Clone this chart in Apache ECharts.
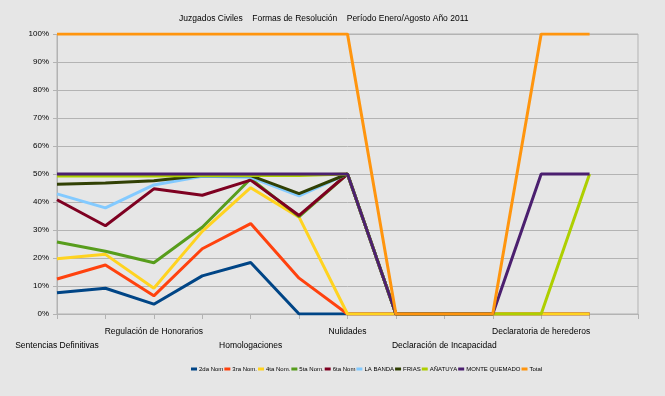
<!DOCTYPE html>
<html>
<head>
<meta charset="utf-8">
<script src="https://cdn.jsdelivr.net/npm/echarts@6/dist/echarts.min.js"></script>
<style>html,body{margin:0;padding:0;background:#e6e6e6;}#c{width:665px;height:396px;}</style>
</head>
<body>
<div id="c"></div>
<script>
const categories = ['Sentencias Definitivas', '', 'Regulación de Honorarios', '', 'Homologaciones', '', 'Nulidades', '', 'Declaración de Incapacidad', '', 'Declaratoria de herederos', '', ''];
const seriesNames = ['2da Nom', '3ra Nom.', '4ta Nom.', '5ta Nom.', '6ta Nom', 'LA BANDA', 'FRIAS', 'AÑATUYA', 'MONTE QUEMADO', 'Total'];
const s2da = [7.6, 9.2, 3.5, 13.6, 18.4, 0, 0, 0, 0, 0, 0, 0];
const s3ra = [12.5, 17.5, 6.5, 23.3, 32.3, 12.8, 0, 0, 0, 0, 0, 0];
const s4ta = [19.7, 21.3, 9.2, 29.5, 45.1, 34.6, 0, 0, 0, 0, 0, 0];
const s5ta = [25.7, 22.4, 18.3, 31.0, 48.3, 34.8, 50, 0, 0, 0, null, null];
const s6ta = [40.8, 31.5, 44.7, 42.4, 47.8, 35.2, 50, 0, 0, 0, null, null];
const sBanda = [42.9, 37.9, 46.1, 49.2, 48.8, 42.2, 50, 0, 0, 0, null, null];
const sFrias = [46.3, 46.8, 47.6, 49.5, 49.4, 43.0, 50, 0, 0, 0, null, null];
const sAnatuya = [49.3, 49.3, 49.3, 49.5, 49.5, 49.5, 50, 0, 0, 0, 0, 50];
const sMonte = [50, 50, 50, 50, 50, 50, 50, 0, 0, 0, 50, 50];
const sTotal = [100, 100, 100, 100, 100, 100, 100, 0, 0, 0, 100, 100];
const yTicks = [0, 10, 20, 30, 40, 50, 60, 70, 80, 90, 100];
const titleText = 'Juzgados Civiles    Formas de Resolución    Período Enero/Agosto Año 2011';

const allData = [s2da, s3ra, s4ta, s5ta, s6ta, sBanda, sFrias, sAnatuya, sMonte, sTotal];
const colors = ['#004586', '#ff420e', '#ffd320', '#579d1c', '#7e0021', '#83caff', '#314004', '#aecf00', '#4b1f6f', '#ff950e'];
const font = 'Liberation Sans, Arial, sans-serif';

const chart = echarts.init(document.getElementById('c'), null, {renderer: 'canvas'});
chart.setOption({
  animation: false,
  backgroundColor: '#e6e6e6',
  color: colors,
  title: {
    text: titleText,
    left: 174, top: 9,
    textStyle: {fontSize: 8.5, fontWeight: 'normal', color: '#000', fontFamily: font}
  },
  legend: {
    data: seriesNames,
    left: 186, top: 361,
    itemWidth: 6, itemHeight: 3, itemGap: 1,
    icon: 'rect',
    textStyle: {fontSize: 6, color: '#000', fontFamily: font, padding: [0, 0, 0, -3]}
  },
  grid: {
    left: 57, right: 27, top: 34, bottom: 82,
    show: true, borderColor: '#b3b3b3', borderWidth: 1, backgroundColor: 'transparent'
  },
  xAxis: {
    type: 'category',
    data: categories,
    boundaryGap: false,
    axisLine: {lineStyle: {color: '#b3b3b3'}},
    axisTick: {show: true, interval: 0, length: 5, lineStyle: {color: '#b3b3b3'}},
    splitLine: {show: false},
    axisLabel: {
      interval: 0, color: '#000', fontSize: 8.5, fontFamily: font, margin: 10, lineHeight: 14.5,
      formatter: function (v, i) { return (i % 4 === 0) ? '\n' + v : v; }
    }
  },
  yAxis: {
    type: 'value', min: yTicks[0], max: yTicks[yTicks.length - 1], interval: 10,
    axisLine: {show: true, lineStyle: {color: '#b3b3b3'}},
    axisTick: {show: true, length: 4, lineStyle: {color: '#b3b3b3'}},
    splitLine: {lineStyle: {color: '#b3b3b3', width: 1}},
    axisLabel: {formatter: '{value}%', color: '#000', fontSize: 8, fontFamily: font, margin: 8}
  },
  series: seriesNames.map(function (n, i) {
    return {
      name: n, type: 'line', data: allData[i], symbol: 'none',
      lineStyle: {width: 3, color: colors[i]}, itemStyle: {color: colors[i]},
      connectNulls: false
    };
  })
});
</script>
</body>
</html>
